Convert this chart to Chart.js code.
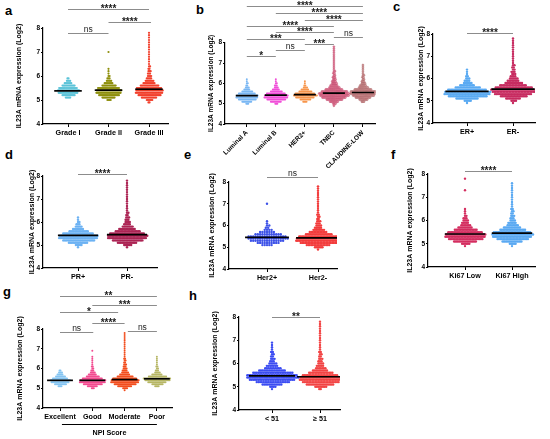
<!DOCTYPE html>
<html>
<head>
<meta charset="utf-8">
<script src="https://cdn.jsdelivr.net/npm/chart.js@4.4.1/dist/chart.umd.min.js"></script>
<style>
  body { margin: 0; background: #fff; }
  #fig { position: relative; width: 550px; height: 439px; overflow: hidden; font-family: "Liberation Sans", Arial, sans-serif; }
  #fig canvas { position: absolute; }
  .tag { position: absolute; font-weight: bold; font-size: 13px; line-height: 13px; color: #000; }
</style>
</head>
<body>
<div id="fig">
  <div class="tag" style="left:5px;top:4px">a</div>
  <div class="tag" style="left:196px;top:3px">b</div>
  <div class="tag" style="left:393px;top:0px">c</div>
  <div class="tag" style="left:5px;top:148px">d</div>
  <div class="tag" style="left:184px;top:148px">e</div>
  <div class="tag" style="left:391px;top:148px">f</div>
  <div class="tag" style="left:3px;top:285px">g</div>
  <div class="tag" style="left:189px;top:289px">h</div>
  <canvas id="chartA"></canvas>
  <canvas id="chartB"></canvas>
  <canvas id="chartC"></canvas>
  <canvas id="chartD"></canvas>
  <canvas id="chartE"></canvas>
  <canvas id="chartF"></canvas>
  <canvas id="chartG"></canvas>
  <canvas id="chartH"></canvas>
</div>
<script>
// y levels of the swarm rows (Log2 expression), one row every 0.1
const binLevels = [4.9, 5.0, 5.1, 5.2, 5.3, 5.4, 5.5, 5.6, 5.7, 5.8, 5.9, 6.0, 6.1, 6.2, 6.3,
    6.4, 6.5, 6.6, 6.7, 6.8, 6.9, 7.0, 7.1, 7.2, 7.3, 7.4, 7.5, 7.6, 7.7, 7.8, 7.9];
const yTicks = [4, 5, 6, 7, 8];
const yTitle = "IL23A mRNA expression (Log2)";

// a - grade
const gradeCats = ["Grade I", "Grade II", "Grade III"];
const gradeMedians = [5.38, 5.41, 5.45];
const gradeIRows = [0, 0, 5, 12, 18, 20, 17, 12, 7, 4, 2];
const gradeIIRows = [0, 4, 12, 19, 23, 23, 20, 13, 8, 5, 3, 2, 1, 1, 1, 0, 0, 0, 0, 0, 0, 1];
const gradeIIIRows = [2, 6, 14, 21, 25, 25, 23, 17, 11, 8, 5, 4, 3, 3, 2, 2, 1, 1, 1, 1, 1, 1, 1, 1, 1, 1, 1, 1, 1, 1];

// b - PAM50 subtype
const subtypeCats = ["Luminal A", "Luminal B", "HER2+", "TNBC", "CLAUDINE-LOW"];
const subtypeMedians = [5.40, 5.42, 5.45, 5.52, 5.55];
const lumARows = [0, 3, 10, 18, 22, 22, 17, 11, 6, 4, 2, 2, 1, 1];
const lumBRows = [0, 3, 11, 19, 24, 24, 19, 12, 7, 4, 3, 2, 1, 1];
const her2TypeRows = [0, 0, 4, 10, 17, 22, 18, 12, 7, 4, 2, 1, 1];
const tnbcRows = [1, 3, 8, 15, 22, 27, 28, 24, 16, 10, 7, 5, 4, 3, 3, 2, 2, 2, 1, 1, 1, 1, 1, 1, 1, 1, 1, 1, 1, 1];
const claudinRows = [0, 0, 3, 8, 14, 20, 24, 24, 16, 9, 6, 4, 3, 2, 2, 2, 1, 1, 1, 1, 1];

// c - ER
const erCats = ["ER+", "ER-"];
const erMedians = [5.42, 5.52];
const erPosRows = [1, 5, 15, 26, 31, 31, 26, 17, 10, 6, 4, 3, 2, 1, 1, 1];
const erNegRows = [1, 4, 10, 18, 25, 29, 30, 25, 18, 12, 8, 6, 4, 3, 3, 2, 2, 2, 1, 1, 1, 1, 1, 1, 1, 1, 1, 1, 1, 1];

// d - PR
const prCats = ["PR+", "PR-"];
const prMedians = [5.42, 5.45];
const prPosRows = [1, 5, 14, 23, 28, 28, 22, 14, 8, 5, 3, 2, 1, 1];
const prNegRows = [1, 6, 14, 22, 28, 29, 25, 18, 12, 8, 5, 4, 3, 3, 2, 2, 1, 1, 1, 1, 1, 1, 1, 1, 1, 1, 1, 1, 1, 1];

// e - Her2
const her2Cats = ["Her2+", "Her2-"];
const her2Medians = [5.45, 5.43];
const her2PosRows = [0, 0, 5, 10, 15, 18, 17, 12, 7, 4, 2, 2, 1, 1, 0, 0, 0, 0, 0, 0, 0, 1];
const her2NegRows = [1, 6, 16, 25, 30, 30, 26, 18, 12, 8, 5, 4, 3, 3, 2, 2, 2, 1, 1, 1, 1, 1, 1, 1, 1, 1, 1, 1, 1, 1];

// f - Ki67
const ki67Cats = ["Ki67 Low", "Ki67 High"];
const ki67Medians = [5.42, 5.46];
const ki67LowRows = [1, 6, 16, 24, 28, 28, 24, 16, 10, 7, 5, 4, 3, 2, 1, 1, 1, 0, 0, 0, 0, 0, 0, 0, 1, 0, 0, 0, 0, 1];
const ki67HighRows = [1, 5, 14, 22, 27, 29, 26, 18, 12, 8, 6, 4, 3, 3, 2, 2, 2, 1, 1, 1, 1, 1, 1, 1, 1, 1, 1, 1];

// g - NPI score
const npiCats = ["Excellent", "Good", "Moderate", "Poor"];
const npiMedians = [5.40, 5.40, 5.44, 5.48];
const npiExcellentRows = [0, 0, 4, 12, 18, 20, 15, 10, 6, 4, 2];
const npiGoodRows = [0, 3, 10, 19, 26, 26, 20, 13, 8, 5, 3, 2, 2, 1, 1, 1, 1, 1, 0, 0, 1];
const npiModerateRows = [1, 5, 14, 22, 28, 28, 24, 16, 10, 7, 5, 4, 3, 3, 2, 2, 2, 1, 1, 1, 1, 1, 1, 1, 1, 1, 1, 1, 1, 1];
const npiPoorRows = [0, 0, 4, 10, 16, 22, 24, 16, 9, 5, 3, 2, 2, 1, 1, 1, 1, 1];

// h - age
const ageCats = ["< 51", "\u2265 51"];
const ageMedians = [5.47, 5.43];
const ageYoungRows = [1, 4, 12, 20, 27, 31, 30, 24, 16, 10, 7, 5, 3, 3, 2, 2, 2, 1, 1, 1, 1];
const ageOldRows = [2, 8, 18, 24, 27, 27, 23, 16, 10, 7, 5, 4, 3, 3, 2, 2, 2, 1, 1, 1, 1, 1, 1, 1, 1, 1, 1, 1, 1, 1];

const FONT = '"Liberation Sans", Arial, sans-serif';

// brackets with significance stars, drawn above the plot
const decor = {
    id: "decor",
    afterDraw(chart, args, opts) {
        const ctx = chart.ctx;
        const xs = chart.scales.x;
        const area = chart.chartArea;
        ctx.save();
        (opts.brackets || []).forEach(b => {
            const x1 = xs.getPixelForValue(b.from);
            const x2 = xs.getPixelForValue(b.to);
            const y = Math.round(area.top + b.dy) + 0.5;
            ctx.strokeStyle = "#8c8c8c";
            ctx.lineWidth = 1;
            ctx.beginPath();
            ctx.moveTo(x1, y);
            ctx.lineTo(x2, y);
            ctx.stroke();
            ctx.fillStyle = "#222";
            ctx.textAlign = "center";
            ctx.textBaseline = "alphabetic";
            if (b.text === "ns") {
                ctx.font = "8.5px " + FONT;
                ctx.fillText(b.text, (x1 + x2) / 2, y - 1.5);
            } else {
                ctx.font = "bold 10px " + FONT;
                ctx.fillText(b.text, (x1 + x2) / 2, y + 2);
            }
        });
        const g = opts.group;
        if (g) {
            const x1 = xs.getPixelForValue(g.from);
            const x2 = xs.getPixelForValue(g.to);
            const y = Math.round(area.bottom + g.dy) + 0.5;
            ctx.strokeStyle = "#000";
            ctx.lineWidth = 1;
            ctx.beginPath();
            ctx.moveTo(x1, y);
            ctx.lineTo(x2, y);
            ctx.stroke();
            ctx.fillStyle = "#000";
            ctx.font = "bold 7.2px " + FONT;
            ctx.textAlign = "center";
            ctx.fillText(g.text, (x1 + x2) / 2, y + 10);
        }
        ctx.restore();
    }
};

function swarm(cat, rows, step) {
    const pts = [];
    rows.forEach((n, k) => {
        const shift = (k % 2 && n > 1) ? step / 2 : 0;
        for (let i = 0; i < n; i++) {
            pts.push({ x: cat + (i - (n - 1) / 2) * step + shift, y: binLevels[k] });
        }
    });
    return pts;
}

function makePanel(p) {
    const canvas = document.getElementById(p.id);
    const [cl, ct, cw, ch] = p.box;
    canvas.width = cw;
    canvas.height = ch;
    canvas.style.left = cl + "px";
    canvas.style.top = ct + "px";

    const xmin = (p.L - p.cat0) / p.unit;
    const xmax = (p.R - p.cat0) / p.unit;
    const datasets = [];

    p.cats.forEach((c, i) => {
        datasets.push({
            type: "line",
            data: [{ x: i - p.medHalf, y: p.medians[i] }, { x: i + p.medHalf, y: p.medians[i] }],
            borderColor: "#000",
            borderWidth: 1.7,
            pointRadius: 0,
            order: 0
        });
        const border = p.borders ? p.borders[i] : null;
        datasets.push({
            type: "scatter",
            data: swarm(i, p.rows[i], p.spacing[i] / p.unit),
            backgroundColor: p.colors[i],
            borderColor: border || p.colors[i],
            borderWidth: border ? 0.4 : 0,
            pointRadius: p.radius,
            order: 1
        });
    });

    const titleSize = p.rotate ? 6.5 : 7;
    const lh = titleSize * 1.2;

    new Chart(canvas, {
        type: "scatter",
        data: { datasets },
        options: {
            responsive: false,
            animation: false,
            events: [],
            layout: { padding: { top: p.T - ct, right: cl + cw - p.R, bottom: 0, left: 0 } },
            plugins: {
                legend: { display: false },
                tooltip: { enabled: false },
                decor: { brackets: p.brackets, group: p.group }
            },
            scales: {
                x: {
                    type: "linear",
                    min: xmin,
                    max: xmax,
                    afterFit: s => { s.height = ct + ch - p.B; },
                    afterBuildTicks: s => { s.ticks = p.cats.map((c, i) => ({ value: i })); },
                    grid: { drawOnChartArea: false, drawTicks: true, tickLength: 3, color: "#000", lineWidth: 1 },
                    border: { display: true, color: "#000", width: 1.2 },
                    ticks: {
                        autoSkip: false,
                        padding: 2,
                        color: "#000",
                        font: { family: FONT, weight: "bold", size: p.rotate ? 6.5 : 7.2 },
                        minRotation: p.rotate ? 45 : 0,
                        maxRotation: p.rotate ? 45 : 0,
                        callback: v => p.cats[v]
                    }
                },
                y: {
                    min: 4,
                    max: 8,
                    afterFit: s => { s.width = p.L - cl; },
                    afterBuildTicks: s => { s.ticks = yTicks.map(v => ({ value: v })); },
                    grid: { drawOnChartArea: false, drawTicks: true, tickLength: 2, color: "#000", lineWidth: 1 },
                    border: { display: true, color: "#000", width: 1.2 },
                    ticks: { padding: 1, color: "#000", font: { family: FONT, weight: "bold", size: 6.5 } },
                    title: {
                        display: true,
                        text: yTitle,
                        color: "#000",
                        font: { family: FONT, weight: "bold", size: titleSize },
                        padding: { top: p.titleX - cl - lh / 2, bottom: 0 }
                    }
                }
            }
        },
        plugins: [decor]
    });
}

makePanel({
    id: "chartA", box: [0, 0, 180, 142], L: 43, T: 28, R: 168, B: 124, cat0: 68, unit: 40.5,
    cats: gradeCats, medians: gradeMedians, rows: [gradeIRows, gradeIIRows, gradeIIIRows],
    colors: ["#5cc3d8", "#8e8f0c", "#f2402c"], spacing: [1.1, 1.1, 1.1], radius: 1.1, medHalf: 0.34, titleX: 19,
    brackets: [
        { from: 0, to: 2, dy: -19, text: "****" },
        { from: 1, to: 2.05, dy: -6, text: "****" },
        { from: 0, to: 1, dy: 5, text: "ns" }
    ]
});

makePanel({
    id: "chartB", box: [180, 0, 200, 180], L: 225, T: 42.7, R: 377, B: 124, cat0: 247, unit: 29.3,
    cats: subtypeCats, medians: subtypeMedians, rows: [lumARows, lumBRows, her2TypeRows, tnbcRows, claudinRows],
    colors: ["#7ab7f3", "#f04fd8", "#f7964c", "#e58aa2", "#d7a0a0"],
    borders: [null, null, null, "#b8325a", "#9c4c50"],
    spacing: [1.0, 1.0, 1.1, 1.1, 1.1], radius: 1.0, medHalf: 0.38, titleX: 211, rotate: true,
    brackets: [
        { from: 0, to: 4, dy: -36.7, text: "****" },
        { from: 1, to: 4, dy: -29.7, text: "****" },
        { from: 2, to: 4, dy: -22.7, text: "****" },
        { from: 0, to: 3, dy: -16.7, text: "****" },
        { from: 1, to: 3, dy: -10.7, text: "****" },
        { from: 0, to: 2, dy: -3.7, text: "***" },
        { from: 3, to: 4, dy: -6, text: "ns" },
        { from: 2, to: 3, dy: 1.3, text: "***" },
        { from: 1, to: 2, dy: 7.3, text: "ns" },
        { from: 0, to: 1, dy: 13, text: "*" }
    ]
});

makePanel({
    id: "chartC", box: [370, 0, 180, 142], L: 433, T: 34, R: 535, B: 123, cat0: 467, unit: 46,
    cats: erCats, medians: erMedians, rows: [erPosRows, erNegRows],
    colors: ["#5aaaf2", "#c72b60"], spacing: [1.5, 1.5], radius: 1.2, medHalf: 0.47, titleX: 421,
    brackets: [{ from: 0, to: 1, dy: -1, text: "****" }]
});

makePanel({
    id: "chartD", box: [0, 142, 180, 143], L: 43, T: 176, R: 157, B: 268, cat0: 78, unit: 49,
    cats: prCats, medians: prMedians, rows: [prPosRows, prNegRows],
    colors: ["#6cb2f3", "#ac2454"], spacing: [1.4, 1.4], radius: 1.2, medHalf: 0.41, titleX: 32,
    brackets: [{ from: 0, to: 1, dy: -2, text: "****" }]
});

makePanel({
    id: "chartE", box: [180, 142, 190, 143], L: 229, T: 182, R: 337, B: 269, cat0: 267, unit: 51,
    cats: her2Cats, medians: her2Medians, rows: [her2PosRows, her2NegRows],
    colors: ["#3d52e8", "#f23c3c"], spacing: [2.3, 1.5], radius: 1.2, medHalf: 0.43, titleX: 212,
    brackets: [{ from: 0, to: 1, dy: -5, text: "ns" }]
});

makePanel({
    id: "chartF", box: [370, 142, 180, 143], L: 428, T: 174, R: 535, B: 267, cat0: 465, unit: 47,
    cats: ki67Cats, medians: ki67Medians, rows: [ki67LowRows, ki67HighRows],
    colors: ["#d42e60", "#5aa9f2"], spacing: [1.45, 1.45], radius: 1.2, medHalf: 0.43, titleX: 410,
    brackets: [{ from: 0, to: 1, dy: -3, text: "****" }]
});

makePanel({
    id: "chartG", box: [0, 285, 190, 154], L: 43, T: 329, R: 172, B: 408, cat0: 60, unit: 32.3,
    cats: npiCats, medians: npiMedians, rows: [npiExcellentRows, npiGoodRows, npiModerateRows, npiPoorRows],
    colors: ["#84c4f2", "#f24b90", "#f24e1e", "#b6b664"], spacing: [1.0, 1.0, 1.0, 1.15], radius: 1.0,
    medHalf: 0.4, titleX: 20,
    brackets: [
        { from: 0, to: 3, dy: -33, text: "**" },
        { from: 1, to: 3, dy: -24, text: "***" },
        { from: 0, to: 1.8, dy: -17, text: "*" },
        { from: 1, to: 2, dy: -6, text: "****" },
        { from: 0, to: 1.03, dy: 3, text: "ns" },
        { from: 2.1, to: 3, dy: 2, text: "ns" }
    ],
    group: { from: 0.06, to: 3, dy: 16, text: "NPI Score" }
});

makePanel({
    id: "chartH", box: [190, 285, 180, 154], L: 239, T: 317, R: 340, B: 410, cat0: 272, unit: 48,
    cats: ageCats, medians: ageMedians, rows: [ageYoungRows, ageOldRows],
    colors: ["#3b4cf2", "#f24444"], spacing: [1.7, 1.55], radius: 1.2, medHalf: 0.48, titleX: 215,
    brackets: [{ from: 0, to: 1, dy: 0, text: "**" }]
});
</script>
</body>
</html>
